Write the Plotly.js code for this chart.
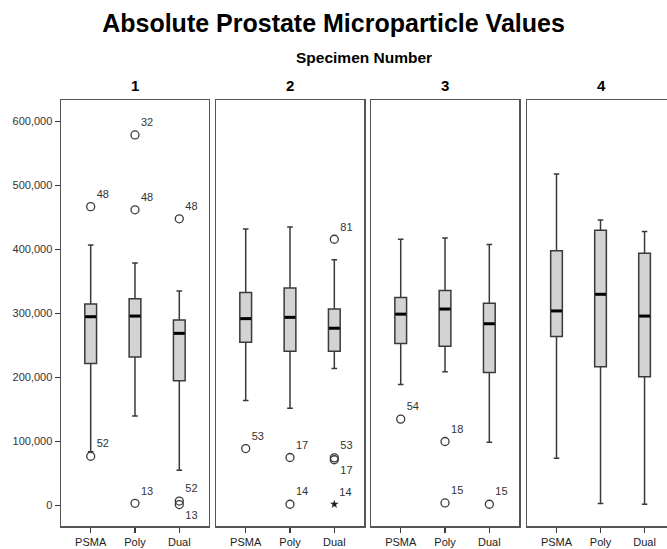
<!DOCTYPE html>
<html>
<head>
<meta charset="utf-8">
<script src="https://cdn.plot.ly/plotly-3.0.1.min.js"></script>
<style>html,body{margin:0;padding:0;background:#fff;}</style>
</head>
<body>
<div id="chart" style="width:667px;height:549px;"></div>
<script>
// ---- data ----
const categories = ['PSMA', 'Poly', 'Dual'];
const specimens = ['1', '2', '3', '4'];
// one row per specimen, columns PSMA, Poly, Dual
const lowerWhisker = [[84000, 140000, 55000], [164000, 152000, 214000], [189000, 209000, 99000], [74000, 3000, 2000]];
const q1 = [[222000, 232000, 195000], [255000, 241000, 241000], [253000, 249000, 208000], [264000, 217000, 201000]];
const medians = [[295000, 296000, 269000], [292000, 294000, 277000], [299000, 307000, 284000], [304000, 330000, 296000]];
const q3 = [[315000, 323000, 290000], [333000, 340000, 307000], [325000, 336000, 316000], [398000, 430000, 394000]];
const upperWhisker = [[407000, 379000, 335000], [432000, 435000, 384000], [416000, 418000, 408000], [518000, 446000, 428000]];
// outliers
const outSpecimen = [1, 1, 1, 1, 1, 1, 1, 1, 2, 2, 2, 2, 2, 2, 2, 3, 3, 3, 3];
const outCategory = [0, 0, 1, 1, 1, 2, 2, 2, 0, 1, 1, 2, 2, 2, 2, 0, 1, 1, 2];
const outValue = [467000, 77000, 579000, 462000, 3500, 448000, 7000, 1500, 89000, 75000, 2000, 416000, 74500, 71500, 2000, 135000, 100000, 4000, 2000];
const outLabel = ['48', '52', '32', '48', '13', '48', '52', '13', '53', '17', '14', '81', '53', '17', '14', '54', '18', '15', '15'];
const outLabelSide = ['top', 'top', 'top', 'top', 'top', 'top', 'top', 'bottom', 'top', 'top', 'top', 'top', 'top', 'bottom', 'top', 'top', 'top', 'top', 'top'];
const outExtreme = [false, false, false, false, false, false, false, false, false, false, false, false, false, false, true, false, false, false, false];

// ---- layout helpers ----
const domains = [[0, 0.2442], [0.2558, 0.5], [0.5116, 0.7558], [0.769, 1]];
const xranges = [[-0.67, 2.67], [-0.67, 2.67], [-0.67, 2.67], [-0.67, 2.51]];
const boxWidth = 0.265;
const FONT = 'Liberation Sans, Arial, sans-serif';
const NARROW = 'Liberation Sans Narrow, Liberation Sans, Arial, sans-serif';

const traces = [];
specimens.forEach((s, i) => {
  const ax = i === 0 ? '' : String(i + 1);
  const xs = categories.map((c, j) => j);
  traces.push({
    type: 'box',
    x: xs,
    q1: q1[i], median: medians[i], q3: q3[i],
    lowerfence: lowerWhisker[i], upperfence: upperWhisker[i],
    xaxis: 'x' + ax, yaxis: 'y' + ax,
    fillcolor: '#d3d3d3',
    line: {color: '#3a3a3a', width: 1.5},
    width: boxWidth,
    whiskerwidth: 0.48,
    boxpoints: false,
    hoverinfo: 'skip'
  });
  // thick median bars
  const mx = [], my = [];
  medians[i].forEach((m, j) => {
    mx.push(j - boxWidth / 2 + 0.01, j + boxWidth / 2 - 0.01, null);
    my.push(m, m, null);
  });
  traces.push({
    type: 'scatter', mode: 'lines', x: mx, y: my,
    xaxis: 'x' + ax, yaxis: 'y' + ax,
    line: {color: '#000', width: 3}, hoverinfo: 'skip'
  });
  // outliers
  const cx = [], cy = [], ct = [], cp = [], sx = [], sy = [], st = [];
  outValue.forEach((v, k) => {
    if (outSpecimen[k] !== i + 1) return;
    if (outExtreme[k]) {
      sx.push(outCategory[k]); sy.push(v); st.push(outLabel[k]);
    } else {
      cx.push(outCategory[k]); cy.push(v); ct.push(outLabel[k]);
      cp.push(outLabelSide[k] + ' right');
    }
  });
  if (cx.length) traces.push({
    type: 'scatter', mode: 'markers+text', x: cx, y: cy, text: ct, textposition: cp,
    xaxis: 'x' + ax, yaxis: 'y' + ax, cliponaxis: false,
    marker: {symbol: 'circle-open', size: 8, color: '#3a3a3a', line: {width: 1.3, color: '#3a3a3a'}},
    textfont: {family: FONT, size: 11, color: '#333'}, hoverinfo: 'skip'
  });
  if (sx.length) traces.push({
    type: 'scatter', mode: 'markers+text', x: sx, y: sy, text: st, textposition: 'top right',
    xaxis: 'x' + ax, yaxis: 'y' + ax, cliponaxis: false,
    marker: {symbol: 'star', size: 6.5, color: '#222'},
    textfont: {family: FONT, size: 11, color: '#333'}, hoverinfo: 'skip'
  });
});

const layout = {
  width: 667, height: 549,
  margin: {l: 61, r: 0, t: 100, b: 23},
  paper_bgcolor: '#fff', plot_bgcolor: '#fff',
  showlegend: false,
  title: {
    text: 'Absolute Prostate Microparticle Values',
    font: {family: FONT, size: 25, color: '#000', weight: 'bold'},
    x: 0.5, xref: 'container', y: 1 - 23 / 549, yref: 'container', yanchor: 'middle'
  },
  annotations: [{
    text: '<b>Specimen Number</b>', xref: 'paper', yref: 'paper', x: 0.5, y: (526 - 58) / 426,
    xanchor: 'center', yanchor: 'middle', showarrow: false,
    font: {family: NARROW, size: 15.5, color: '#000'}
  }],
  shapes: []
};

specimens.forEach((s, i) => {
  const ax = i === 0 ? '' : String(i + 1);
  layout['xaxis' + ax] = {
    domain: domains[i], range: xranges[i], anchor: 'y' + ax,
    tickmode: 'array', tickvals: [0, 1, 2], ticktext: categories,
    ticks: 'outside', ticklen: 5, tickwidth: 1.5, tickcolor: '#3a3a3a',
    showline: true, mirror: true, linecolor: '#555', linewidth: 1.5,
    showgrid: false, zeroline: false, fixedrange: true,
    tickfont: {family: NARROW, size: 11, color: '#222'}
  };
  const ya = {
    domain: [0, 1], range: [-32000, 633600], anchor: 'x' + ax,
    showline: true, mirror: i < 3, linecolor: '#555', linewidth: 1.5,
    showgrid: false, zeroline: false, fixedrange: true
  };
  if (i === 0) {
    Object.assign(ya, {
      tickmode: 'linear', tick0: 0, dtick: 100000, tickformat: ',',
      ticks: 'outside', ticklen: 5, tickwidth: 1.5, tickcolor: '#3a3a3a',
      tickfont: {family: FONT, size: 11, color: '#333'}
    });
  } else {
    Object.assign(ya, {matches: 'y', showticklabels: false, ticks: ''});
  }
  layout['yaxis' + ax] = ya;
  const d = domains[i];
  layout.annotations.push({
    text: '<b>' + s + '</b>', xref: 'paper', yref: 'paper',
    x: i < 3 ? (d[0] + d[1]) / 2 : d[0] + 74 / 606, y: (526 - 86) / 426,
    xanchor: 'center', yanchor: 'middle', showarrow: false,
    font: {family: FONT, size: 15, color: '#000'}
  });
});

Plotly.newPlot('chart', traces, layout, {staticPlot: true, displayModeBar: false});
</script>
</body>
</html>
